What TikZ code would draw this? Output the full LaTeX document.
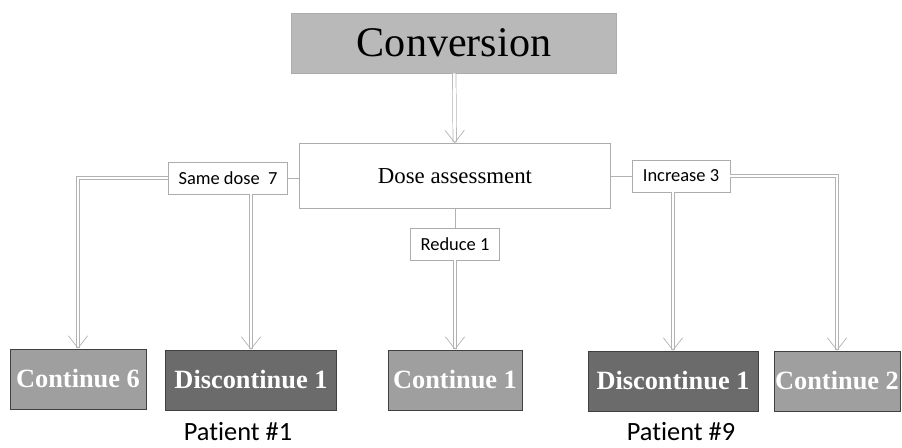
\documentclass[tikz,border=0pt]{standalone}
\usepackage{fontspec}
\setmainfont{Liberation Serif}
\newfontfamily\calibri[Ligatures=NoCommon]{Carlito}
\usetikzlibrary{arrows.meta}
\begin{document}
\begin{tikzpicture}[x=0.02cm,y=-0.02cm,
  box/.style={draw=gray!65, thin, inner sep=0pt},
  tag/.style={box, minimum height=0.64cm, font=\calibri\fontsize{10.5}{12}\selectfont},
  result/.style={draw=gray!50!black, thin, minimum height=1.2cm, inner sep=0pt, text=white, font=\bfseries\fontsize{15}{17}\selectfont},
  link/.style={draw=gray!60, thin},
  flow/.style={draw=gray!60, double=white, double distance=1.6pt, thin, -{Straight Barb[length=7pt,width=11pt]}}]
\useasboundingbox (0,0) rectangle (902,448);

% top of the tree
\node[box, fill=gray!55, minimum width=6.5cm, minimum height=1.2cm, font=\fontsize{24}{28}\selectfont] (conv) at (454,43) {Conversion};
\node[box, minimum width=6.22cm, minimum height=1.3cm, font=\fontsize{13}{15}\selectfont] (dose) at (455,176) {Dose assessment};

% the three branches
\node[tag, minimum width=2.38cm] (same) at (228,178) {Same dose\ \ 7};
\node[tag, minimum width=1.78cm] (reduce) at (455,244) {Reduce 1};
\node[tag, minimum width=1.96cm] (incr) at (681,176) {Increase 3};

% outcomes
\node[result, fill=gray!75, minimum width=2.72cm] (cont6) at (78,379) {Continue 6};
\node[result, fill=black!58, minimum width=3.42cm] (disc1) at (251,380) {Discontinue 1};
\node[result, fill=gray!75, minimum width=2.68cm] (cont1) at (455,380) {Continue 1};
\node[result, fill=black!58, minimum width=3.4cm] (disc9) at (673,381) {Discontinue 1};
\node[result, fill=gray!75, minimum width=2.52cm] (cont2) at (837,381) {Continue 2};

\node[inner sep=1pt, font=\calibri\fontsize{15}{18}\selectfont] (pat1) at (238,432) {Patient \#1};
\node[inner sep=1pt, font=\calibri\fontsize{15}{18}\selectfont] (pat9) at (681,432) {Patient \#9};

\draw[flow] (conv) -- (dose);
\draw[link] (dose.west |- same.east) -- (same.east);
\draw[link] (dose) -- (reduce);
\draw[link] (dose.east |- incr.west) -- (incr.west);

\draw[flow] (same.west) -| (cont6.north);
\draw[flow] (same.south -| disc1.north) -- (disc1.north);
\draw[flow] (reduce) -- (cont1);
\draw[flow] (incr.south -| disc9.north) -- (disc9.north);
\draw[flow] (incr.east) -| (cont2.north);
\end{tikzpicture}
\end{document}
